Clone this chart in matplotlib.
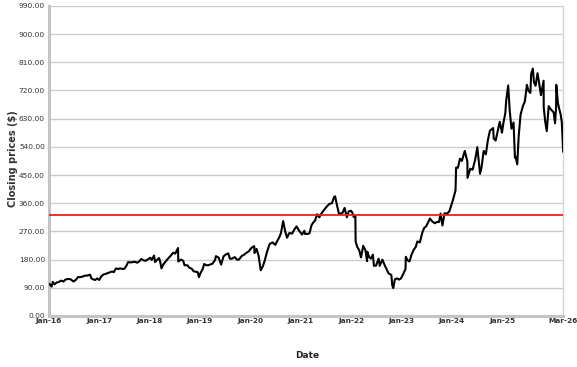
import numpy as np
import pandas as pd
import matplotlib
matplotlib.use("Agg")
import matplotlib.pyplot as plt

dates = [
    "2016-01-04", "2016-01-20", "2016-01-28", "2016-02-10", "2016-02-25", "2016-03-10", "2016-03-28", "2016-04-15",
    "2016-04-28", "2016-05-15", "2016-06-01", "2016-06-15", "2016-06-27", "2016-07-15", "2016-07-28", "2016-08-15",
    "2016-09-01", "2016-09-20", "2016-10-05", "2016-10-25", "2016-11-03", "2016-11-15", "2016-12-01", "2016-12-15",
    "2016-12-30",
    "2017-01-15", "2017-02-01", "2017-02-15", "2017-03-01", "2017-03-15", "2017-04-01", "2017-04-15", "2017-05-01",
    "2017-05-15", "2017-06-01", "2017-06-15", "2017-07-01", "2017-07-15", "2017-07-28", "2017-08-15", "2017-09-01",
    "2017-09-15", "2017-10-01", "2017-10-15", "2017-11-01", "2017-11-15", "2017-12-01", "2017-12-15",
    "2018-01-05", "2018-01-15", "2018-02-01", "2018-02-08", "2018-02-20", "2018-03-10", "2018-03-20", "2018-03-27",
    "2018-04-10", "2018-04-26", "2018-05-15", "2018-06-01", "2018-06-20", "2018-07-05", "2018-07-25", "2018-07-27",
    "2018-08-15", "2018-09-01", "2018-09-10", "2018-10-01", "2018-10-15", "2018-11-01", "2018-11-15", "2018-12-01",
    "2018-12-15", "2018-12-24",
    "2019-01-02", "2019-01-20", "2019-01-31", "2019-02-15", "2019-03-01", "2019-03-20", "2019-04-01", "2019-04-20",
    "2019-04-26", "2019-05-15", "2019-06-03", "2019-06-20", "2019-07-05", "2019-07-25", "2019-08-05", "2019-08-20",
    "2019-09-10", "2019-09-25", "2019-10-10", "2019-10-31", "2019-11-15", "2019-12-01", "2019-12-20",
    "2020-01-10", "2020-01-29", "2020-01-31", "2020-02-15", "2020-03-01", "2020-03-16", "2020-04-01", "2020-04-15",
    "2020-05-01", "2020-05-20", "2020-06-10", "2020-06-30", "2020-07-15", "2020-07-31", "2020-08-10", "2020-08-26",
    "2020-09-10", "2020-09-23", "2020-10-10", "2020-10-30", "2020-11-15", "2020-12-01", "2020-12-20",
    "2021-01-10", "2021-01-27", "2021-02-01", "2021-02-20", "2021-03-05", "2021-03-20", "2021-04-01", "2021-04-15",
    "2021-04-29", "2021-05-15", "2021-06-01", "2021-06-25", "2021-07-10", "2021-07-28", "2021-08-15", "2021-08-31",
    "2021-09-07", "2021-09-20", "2021-10-05", "2021-10-25", "2021-11-01", "2021-11-15", "2021-12-01", "2021-12-15",
    "2021-12-31",
    "2022-01-10", "2022-01-20", "2022-02-01", "2022-02-03", "2022-02-15", "2022-03-01", "2022-03-14", "2022-03-30",
    "2022-04-15", "2022-04-27", "2022-04-29", "2022-05-12", "2022-05-25", "2022-06-08", "2022-06-16", "2022-07-01",
    "2022-07-20", "2022-07-28", "2022-08-16", "2022-09-01", "2022-09-15", "2022-09-30", "2022-10-20", "2022-10-27",
    "2022-11-03", "2022-11-15", "2022-12-01", "2022-12-15", "2022-12-29",
    "2023-01-10", "2023-01-31", "2023-02-02", "2023-02-15", "2023-03-01", "2023-03-15", "2023-04-01", "2023-04-15",
    "2023-04-27", "2023-05-15", "2023-06-01", "2023-06-15", "2023-07-01", "2023-07-27", "2023-08-15", "2023-09-01",
    "2023-09-15", "2023-10-01", "2023-10-12", "2023-10-26", "2023-11-10", "2023-11-30", "2023-12-15", "2023-12-29",
    "2024-01-10", "2024-01-29", "2024-02-02", "2024-02-15", "2024-03-01", "2024-03-15", "2024-04-05", "2024-04-24",
    "2024-04-25", "2024-05-15", "2024-06-01", "2024-06-20", "2024-07-05", "2024-07-25", "2024-08-05", "2024-08-20",
    "2024-09-05", "2024-09-20", "2024-10-05", "2024-10-28", "2024-11-01", "2024-11-15", "2024-12-01", "2024-12-15",
    "2024-12-31",
    "2025-01-10", "2025-01-24", "2025-01-31", "2025-02-14", "2025-02-25", "2025-03-10", "2025-03-25", "2025-04-04",
    "2025-04-08", "2025-04-21", "2025-05-01", "2025-05-15", "2025-06-01", "2025-06-15", "2025-06-30", "2025-07-10",
    "2025-07-25", "2025-07-31", "2025-08-12", "2025-08-20", "2025-09-01", "2025-09-15", "2025-09-25", "2025-10-10",
    "2025-10-29", "2025-10-30", "2025-11-10", "2025-11-21", "2025-12-05", "2025-12-20",
    "2026-01-10", "2026-01-20", "2026-01-28", "2026-01-29", "2026-02-10", "2026-02-20", "2026-03-01", "2026-03-10",
    "2026-03-20",
]

prices = [
    102, 94, 109, 101, 107, 108, 113, 110,
    116, 118, 118, 114, 110, 116, 124, 124,
    126, 129, 129, 132, 120, 117, 115, 120,
    115,
    127, 133, 134, 137, 139, 142, 140, 152,
    150, 152, 150, 151, 160, 172, 171, 172,
    173, 170, 174, 182, 178, 176, 180,
    186, 179, 193, 172, 178, 185, 168, 152,
    165, 174, 184, 192, 202, 199, 217, 174,
    180, 176, 162, 162, 154, 151, 143, 141,
    140, 124,
    135, 150, 166, 162, 162, 165, 167, 179,
    191, 187, 164, 190, 196, 200, 183, 183,
    188, 180, 180, 192, 195, 201, 206,
    218, 223, 201, 214, 192, 146, 159, 178,
    205, 230, 235, 227, 240, 253, 265, 303,
    270, 250, 265, 263, 276, 286, 272,
    260, 272, 262, 262, 264, 290, 298, 305,
    325, 315, 328, 342, 350, 358, 360, 380,
    382, 355, 326, 328, 330, 345, 315, 334,
    336,
    330, 316, 319, 237, 220, 210, 187, 224,
    210, 175, 205, 188, 183, 196, 160, 161,
    183, 160, 180, 163, 150, 136, 131, 98,
    89, 117, 120, 116, 120,
    130, 150, 189, 178, 174, 195, 212, 220,
    238, 235, 265, 281, 287, 311, 301, 296,
    300, 300, 327, 289, 328, 327, 334, 354,
    370, 401, 474, 473, 502, 495, 527, 493,
    441, 470, 467, 500, 539, 454, 475, 527,
    516, 562, 592, 600, 567, 560, 592, 620,
    585,
    615, 647, 689, 736, 657, 598, 618, 505,
    510, 484, 572, 643, 670, 685, 738, 720,
    712, 773, 790, 747, 735, 775, 748, 705,
    751, 666, 620, 590, 670, 660,
    650, 615, 668, 738, 680, 660, 645, 620,
    525,
]

reference_level = 323

y_ticks = np.arange(0, 991, 90)

x = pd.to_datetime(dates)
tick_dates = pd.to_datetime([f"{y}-01-01" for y in range(2016, 2026)] + [dates[-1]])

fig = plt.figure(figsize=(5.77, 3.67), dpi=100)
ax = fig.add_axes([0.085, 0.139, 0.891, 0.845])

ax.plot(x, prices, color="black", linewidth=1.5, zorder=3)
ax.axhline(reference_level, color="#e8201a", linewidth=1.3, zorder=4)

ax.set_ylim(0, 990)
ax.set_xlim(pd.Timestamp("2016-01-01"), x[-1])
ax.set_yticks(y_ticks)
ax.set_yticklabels([f"{v:.2f}" for v in y_ticks])
ax.set_xticks(tick_dates)
ax.set_xticklabels([d.strftime("%b-%y") for d in tick_dates], fontweight="bold")

ax.yaxis.grid(True, color="#cccccc", linewidth=1.0)
ax.xaxis.grid(False)
ax.set_axisbelow(True)
ax.tick_params(axis="both", length=0, colors="#333333")
ax.tick_params(axis="y", labelsize=5.4, pad=3)
ax.tick_params(axis="x", labelsize=5.3, pad=1.5)

for side in ["left", "bottom"]:
    ax.spines[side].set_color("#c4c4c4")
    ax.spines[side].set_linewidth(2.2)
ax.spines["right"].set_color("#d4d4d4")
ax.spines["right"].set_linewidth(1.0)
ax.spines["top"].set_visible(False)

fig.text(0.022, 0.567, "Closing prices ($)", rotation=90, ha="center", va="center",
         fontsize=7, fontweight="bold", color="#333333")
fig.text(0.532, 1 - 356 / 367, "Date", ha="center", va="center",
         fontsize=6.5, fontweight="bold", color="#222222")

fig.savefig("out.png", dpi=100)
